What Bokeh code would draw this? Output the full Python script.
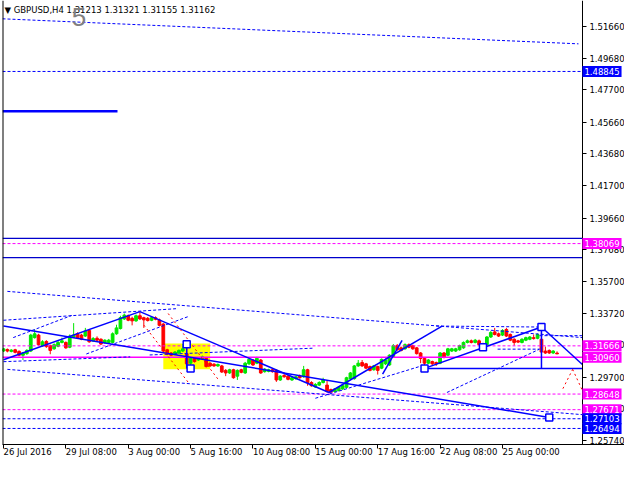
from bokeh.plotting import figure
from bokeh.models import Range1d, FixedTicker, PrintfTickFormatter, Label, Span
from bokeh.embed import file_html
from bokeh.resources import INLINE

FONT = "DejaVu Sans"

# ---------------- data ----------------
x_tick_bars = [0, 16, 32, 48, 64, 80, 96, 112, 128]
x_tick_labels = ["26 Jul 2016", "29 Jul 08:00", "3 Aug 00:00", "5 Aug 16:00", "10 Aug 08:00",
                 "15 Aug 00:00", "17 Aug 16:00", "22 Aug 08:00", "25 Aug 00:00"]
y_ticks = [1.2574, 1.2772, 1.2970, 1.3174, 1.3372, 1.3570, 1.3768, 1.3966, 1.4170,
           1.4368, 1.4566, 1.4770, 1.4968, 1.5166]

opens = [
    1.3134, 1.3144, 1.3132, 1.3142, 1.3132, 1.3108, 1.3118, 1.3134, 1.3218, 1.3234,
    1.3168, 1.3194, 1.3168, 1.3148, 1.3164, 1.3188, 1.3188, 1.3158, 1.3222, 1.3242,
    1.3234, 1.3228, 1.3263, 1.3198, 1.3214, 1.3208, 1.3186, 1.3188, 1.3188, 1.3242,
    1.3275, 1.3335, 1.3355, 1.3339, 1.3323, 1.3355, 1.3343, 1.3339, 1.3327, 1.3343,
    1.3329, 1.3303, 1.3142, 1.3122, 1.3114, 1.3122, 1.3134, 1.3118, 1.3058, 1.3088,
    1.3078, 1.3086, 1.3088, 1.3058, 1.3052, 1.3041, 1.3041, 1.3013, 1.2997, 1.3017,
    1.2977, 1.3017, 1.2997, 1.3054, 1.3078, 1.3058, 1.3078, 1.3005, 1.3007, 1.3017,
    1.3013, 1.2953, 1.2981, 1.2977, 1.2953, 1.2961, 1.2977, 1.2973, 1.3017, 1.2937,
    1.2909, 1.2921, 1.2937, 1.2921, 1.2893, 1.2881, 1.2887, 1.2897, 1.2907, 1.2961,
    1.2961, 1.3041, 1.3062, 1.3054, 1.3037, 1.3017, 1.3037, 1.3027, 1.3054, 1.3047,
    1.3098, 1.3168, 1.3154, 1.3148, 1.3174, 1.3168, 1.3154, 1.3122, 1.3088, 1.3058,
    1.3068, 1.3062, 1.3058, 1.3122, 1.3108, 1.3134, 1.3134, 1.3142, 1.3154, 1.3188,
    1.3198, 1.3188, 1.3198, 1.3178, 1.3174, 1.3222, 1.3254, 1.3242, 1.3234, 1.3269,
    1.3238, 1.3208, 1.3198, 1.3188, 1.3202, 1.3208, 1.3218, 1.3214, 1.3208, 1.3134,
    1.3138, 1.3122, 1.31213]
highs = [
    1.3154, 1.3150, 1.3146, 1.3148, 1.3138, 1.3128, 1.3146, 1.3242, 1.3269, 1.3242,
    1.3202, 1.3202, 1.3174, 1.3182, 1.3198, 1.3218, 1.3194, 1.3238, 1.3309, 1.3251,
    1.3242, 1.3279, 1.3271, 1.3222, 1.3226, 1.3214, 1.3208, 1.3210, 1.3251, 1.3299,
    1.3355, 1.3369, 1.3363, 1.3349, 1.3363, 1.3379, 1.3349, 1.3347, 1.3351, 1.3351,
    1.3337, 1.3309, 1.3148, 1.3128, 1.3134, 1.3144, 1.3178, 1.3158, 1.3094, 1.3094,
    1.3094, 1.3106, 1.3094, 1.3064, 1.3058, 1.3056, 1.3047, 1.3021, 1.3023, 1.3023,
    1.3019, 1.3023, 1.3066, 1.3090, 1.3084, 1.3098, 1.3084, 1.3027, 1.3023, 1.3023,
    1.3019, 1.2983, 1.2997, 1.2983, 1.2973, 1.2979, 1.2987, 1.3041, 1.3023, 1.2945,
    1.2933, 1.2945, 1.2967, 1.2947, 1.2899, 1.2903, 1.2913, 1.2923, 1.2973, 1.3003,
    1.3047, 1.3078, 1.3078, 1.3060, 1.3043, 1.3047, 1.3043, 1.3088, 1.3088, 1.3114,
    1.3178, 1.3178, 1.3162, 1.3182, 1.3182, 1.3174, 1.3160, 1.3128, 1.3094, 1.3084,
    1.3074, 1.3068, 1.3128, 1.3128, 1.3154, 1.3154, 1.3154, 1.3174, 1.3194, 1.3206,
    1.3206, 1.3210, 1.3206, 1.3186, 1.3228, 1.3259, 1.3279, 1.3250, 1.3271, 1.3279,
    1.3244, 1.3214, 1.3204, 1.3214, 1.3224, 1.3228, 1.3238, 1.3244, 1.3283, 1.3162,
    1.3144, 1.3140, 1.31321]
lows = [
    1.3128, 1.3126, 1.3126, 1.3120, 1.3102, 1.3078, 1.3110, 1.3128, 1.3212, 1.3168,
    1.3162, 1.3154, 1.3114, 1.3142, 1.3158, 1.3182, 1.3148, 1.3152, 1.3216, 1.3212,
    1.3202, 1.3222, 1.3186, 1.3192, 1.3196, 1.3172, 1.3180, 1.3182, 1.3182, 1.3236,
    1.3269, 1.3329, 1.3321, 1.3295, 1.3317, 1.3329, 1.3279, 1.3319, 1.3321, 1.3327,
    1.3289, 1.3126, 1.3108, 1.3102, 1.3108, 1.3116, 1.3128, 1.3045, 1.3041, 1.3062,
    1.3072, 1.3080, 1.3031, 1.3035, 1.3035, 1.3035, 1.2997, 1.2977, 1.2991, 1.2961,
    1.2953, 1.2995, 1.2991, 1.3047, 1.3041, 1.3052, 1.2991, 1.2999, 1.3001, 1.2999,
    1.2941, 1.2947, 1.2967, 1.2951, 1.2947, 1.2955, 1.2961, 1.2967, 1.2917, 1.2911,
    1.2903, 1.2915, 1.2931, 1.2875, 1.2871, 1.2875, 1.2881, 1.2891, 1.2901, 1.2955,
    1.2955, 1.3035, 1.3035, 1.3021, 1.3007, 1.3011, 1.2987, 1.3021, 1.3047, 1.3041,
    1.3092, 1.3136, 1.3132, 1.3142, 1.3152, 1.3142, 1.3112, 1.3058, 1.3041, 1.3052,
    1.3047, 1.3041, 1.3052, 1.3088, 1.3102, 1.3128, 1.3128, 1.3136, 1.3148, 1.3182,
    1.3182, 1.3182, 1.3168, 1.3162, 1.3168, 1.3216, 1.3232, 1.3222, 1.3228, 1.3222,
    1.3196, 1.3168, 1.3184, 1.3182, 1.3196, 1.3202, 1.3206, 1.3208, 1.3122, 1.3116,
    1.3116, 1.3116, 1.31155]
closes = [
    1.3148, 1.3134, 1.3140, 1.3126, 1.3108, 1.3122, 1.3138, 1.3234, 1.3242, 1.3174,
    1.3192, 1.3162, 1.3138, 1.3174, 1.3188, 1.3198, 1.3154, 1.3228, 1.3234, 1.3218,
    1.3208, 1.3259, 1.3192, 1.3212, 1.3202, 1.3178, 1.3202, 1.3202, 1.3242, 1.3279,
    1.3343, 1.3359, 1.3327, 1.3323, 1.3355, 1.3335, 1.3329, 1.3325, 1.3343, 1.3333,
    1.3295, 1.3134, 1.3114, 1.3108, 1.3128, 1.3138, 1.3148, 1.3054, 1.3088, 1.3068,
    1.3088, 1.3098, 1.3037, 1.3041, 1.3041, 1.3050, 1.3003, 1.2997, 1.3017, 1.2967,
    1.3013, 1.3001, 1.3058, 1.3082, 1.3047, 1.3088, 1.2997, 1.3021, 1.3017, 1.3005,
    1.2953, 1.2977, 1.2973, 1.2957, 1.2967, 1.2973, 1.2967, 1.3017, 1.2937, 1.2917,
    1.2925, 1.2937, 1.2953, 1.2881, 1.2877, 1.2897, 1.2907, 1.2917, 1.2967, 1.2997,
    1.3041, 1.3058, 1.3041, 1.3027, 1.3013, 1.3041, 1.3013, 1.3082, 1.3078, 1.3108,
    1.3168, 1.3142, 1.3138, 1.3174, 1.3158, 1.3148, 1.3118, 1.3088, 1.3058, 1.3078,
    1.3054, 1.3054, 1.3122, 1.3094, 1.3148, 1.3148, 1.3148, 1.3168, 1.3188, 1.3198,
    1.3188, 1.3202, 1.3174, 1.3168, 1.3222, 1.3250, 1.3238, 1.3228, 1.3263, 1.3228,
    1.3202, 1.3188, 1.3190, 1.3208, 1.3218, 1.3222, 1.3212, 1.3238, 1.3128, 1.3122,
    1.3122, 1.3134, 1.31162]

title_text = "GBPUSD,H4 1.31213 1.31321 1.31155 1.31162"
wave_label = "5"

# horizontal price levels
magenta_dashed_levels = [1.38069, 1.31666, 1.28648, 1.27671]
magenta_solid_levels = [1.30960]
blue_dashed_levels = [1.48845, 1.27103, 1.26494]
blue_solid_levels = [1.38394, 1.37188]
price_tags = [1.48845, 1.38069, 1.31666, 1.30960, 1.28648, 1.27671, 1.27103, 1.26494]

# drawn objects (bar index, price)
solid_x0 = [0, 0, 35, 83.5, 97.25, 108, 108, 138, 47, 138]
solid_y0 = [1.32907, 1.30796, 1.33811, 1.28746, 1.29892, 1.30254, 1.30254, 1.32845, 1.31761, 1.32845]
solid_x1 = [140, 35, 83.5, 112.5, 102.25, 148.5, 138, 148.5, 47, 138]
solid_y1 = [1.27179, 1.33811, 1.28746, 1.32907, 1.32002, 1.30254, 1.32845, 1.30495, 1.30254, 1.30254]

dash_x0 = [-0.25, 1, 1, 0, 2.5, 21.25, 0, 37.5, 80, 113.75, 111, 137.5, 126.75]
dash_y0 = [1.52142, 1.35077, 1.30194, 1.33269, 1.32183, 1.31157, 1.30675, 1.31096, 1.28384, 1.28746, 1.32907, 1.32304, 1.31460]
dash_x1 = [147.5, 148.5, 148.5, 44.25, 17.5, 47.5, 32.5, 79.25, 106.75, 137.5, 137.5, 148.5, 137.5]
dash_y1 = [1.50575, 1.32183, 1.27360, 1.33992, 1.33570, 1.33509, 1.30977, 1.31518, 1.30374, 1.31460, 1.32845, 1.32304, 1.31460]

red_x0 = [36, 42.25, 143.5, 146]
red_y0 = [1.32967, 1.33690, 1.28986, 1.30194]
red_x1 = [47.5, 55, 146, 148.5]
red_y1 = [1.29348, 1.29589, 1.30194, 1.28867]

thick_x = [-0.25, 29.25]
thick_y = [1.46354, 1.46354]

zone_left, zone_right, zone_bottom, zone_top = [41], [53], [1.30194], [1.31821]

square_x = [47, 48, 108, 123, 138, 140]
square_y = [1.31761, 1.30254, 1.30254, 1.31581, 1.32845, 1.27179]

# ---------------- styles ----------------
X0, X_AXIS, X1 = -0.25, 148.5, 159.3
Y0, Y1 = 1.25490, 1.53288
BLUE = "#0000FF"
DBLUE = "#0000CC"
MAGENTA = "#FF00FF"
BULL = "#00E600"
BEAR = "#FF0000"
tag_colors = [BLUE, MAGENTA, MAGENTA, MAGENTA, MAGENTA, MAGENTA, BLUE, BLUE]

p = figure(width=624, height=464, x_range=Range1d(X0, X1), y_range=Range1d(Y0, Y1),
           output_backend="svg", toolbar_location=None, y_axis_location="right",
           min_border_left=2, min_border_top=0, min_border_right=0, min_border_bottom=0)
p.grid.visible = False
p.outline_line_color = None
p.background_fill_color = "white"
p.border_fill_color = "white"

for ax in (p.xaxis[0], p.yaxis[0]):
    ax.axis_line_color = "black"
    ax.major_tick_line_color = "black"
    ax.major_tick_out = 4
    ax.major_tick_in = 0
    ax.minor_tick_line_color = None
    ax.major_label_text_font = FONT
    ax.major_label_text_font_size = "8.5px"
    ax.major_label_text_color = "black"

xa = p.xaxis[0]
xa.ticker = FixedTicker(ticks=x_tick_bars)
xa.major_label_overrides = {b: l for b, l in zip(x_tick_bars, x_tick_labels)}
xa.major_label_orientation = -0.0001
xa.major_label_standoff = 3

ya = p.yaxis[0]
ya.ticker = FixedTicker(ticks=y_ticks)
ya.formatter = PrintfTickFormatter(format="%.5f")
ya.major_label_standoff = 3
ya.fixed_location = X_AXIS

# left frame line
p.add_layout(Span(location=X0, dimension="height", line_color="black", line_width=2))

# yellow zone
p.quad(left=zone_left, right=zone_right, bottom=zone_bottom, top=zone_top,
       fill_color="#FFFF00", line_color=None)

# candles
bars = list(range(len(opens)))
colors = [BULL if c >= o else BEAR for o, c in zip(opens, closes)]
tops = [max(o, c) for o, c in zip(opens, closes)]
bottoms = [min(o, c) for o, c in zip(opens, closes)]
p.segment(x0=bars, y0=highs, x1=bars, y1=lows, line_color=colors, line_width=1)
p.vbar(x=bars, width=0.7, top=tops, bottom=bottoms, fill_color=colors, line_color=colors)

# horizontal levels
n = len(magenta_dashed_levels)
p.segment(x0=[X0] * n, x1=[X_AXIS] * n, y0=magenta_dashed_levels, y1=magenta_dashed_levels,
          line_color=MAGENTA, line_width=1, line_dash="3 2")
n = len(magenta_solid_levels)
p.segment(x0=[X0] * n, x1=[X_AXIS] * n, y0=magenta_solid_levels, y1=magenta_solid_levels,
          line_color=MAGENTA, line_width=1.5)
n = len(blue_dashed_levels)
p.segment(x0=[X0] * n, x1=[X_AXIS] * n, y0=blue_dashed_levels, y1=blue_dashed_levels,
          line_color=BLUE, line_width=1, line_dash="3 2")
n = len(blue_solid_levels)
p.segment(x0=[X0] * n, x1=[X_AXIS] * n, y0=blue_solid_levels, y1=blue_solid_levels,
          line_color=DBLUE, line_width=1.3)

# trend / wave lines
p.segment(x0=dash_x0, y0=dash_y0, x1=dash_x1, y1=dash_y1, line_color=BLUE, line_width=1, line_dash="3 2")
p.segment(x0=solid_x0, y0=solid_y0, x1=solid_x1, y1=solid_y1, line_color=BLUE, line_width=1.5)
p.segment(x0=red_x0, y0=red_y0, x1=red_x1, y1=red_y1, line_color=BEAR, line_width=1, line_dash="2 3")
p.line(x=thick_x, y=thick_y, line_color=BLUE, line_width=2.5)

p.scatter(x=square_x, y=square_y, marker="square", size=7, fill_color="white",
          line_color=BLUE, line_width=1.5)

# price tags on the right scale
for price, col in zip(price_tags, tag_colors):
    p.add_layout(Label(x=X_AXIS, y=price, x_offset=0, text=f"{price:.5f}", text_color="white",
                       text_font=FONT, text_font_size="8.5px", text_baseline="middle",
                       text_align="left", background_fill_color=col, padding=2))

# title and wave number
p.add_layout(Label(x=0.25, y=1.52685, text="\u25BC " + title_text, text_color="black",
                   text_font=FONT, text_font_size="8.5px", text_baseline="middle", text_align="left"))
p.add_layout(Label(x=17.5, y=1.52233, text=wave_label, text_color="#808080",
                   text_font="Liberation Sans", text_font_size="26px", text_baseline="middle",
                   text_align="left"))

open("out.html", "w").write(file_html(p, INLINE))
